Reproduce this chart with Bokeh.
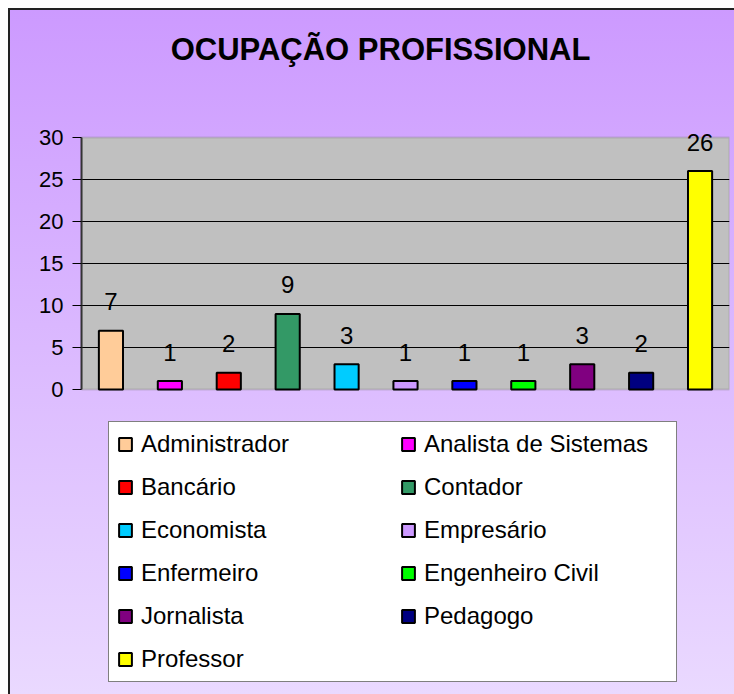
from bokeh.plotting import figure
from bokeh.models import (ColumnDataSource, Range1d, FactorRange, Legend, LegendItem,
                          SingleIntervalTicker, Label, BoxAnnotation)
from bokeh.core.properties import value
from bokeh.embed import file_html
from bokeh.resources import INLINE

# ---- data ----
categories = ["Administrador", "Analista de Sistemas", "Bancário", "Contador",
              "Economista", "Empresário", "Enfermeiro", "Engenheiro Civil",
              "Jornalista", "Pedagogo", "Professor"]
counts = [7, 1, 2, 9, 3, 1, 1, 1, 3, 2, 26]
colors = ["#FFCC99", "#FF00FF", "#FF0000", "#339966", "#00CCFF", "#CC99FF",
          "#0000FF", "#00FF00", "#800080", "#000080", "#FFFF00"]
title_text = "OCUPAÇÃO PROFISSIONAL"
y_min, y_max = 0, 30

FONT = "Liberation Sans"

src = ColumnDataSource(dict(cat=categories, val=counts, col=colors,
                            lab=[str(v) for v in counts]))

# value axis: 8.4 px per unit; frame extended above/below the plot area
PX = 8.4
p = figure(width=734, height=694, x_range=FactorRange(*categories),
           y_range=Range1d(y_min - 305 / PX, y_max + 137 / PX),
           output_backend="svg", toolbar_location=None,
           min_border_left=81, min_border_right=5, min_border_top=0,
           min_border_bottom=0)

p.border_fill_color = None
p.background_fill_color = None
p.outline_line_color = None
p.styles = {"background": "linear-gradient(to bottom, #CC99FF 0%, #EAD9FF 100%)",
            "box-shadow": "inset 8px 8px 0 0 #FFFFFF, inset 10px 10px 0 0 #222222"}

# plot area (grey wall)
wall = BoxAnnotation(bottom=y_min, top=y_max, fill_color="#C0C0C0", fill_alpha=1,
                     line_color="#808080", line_width=2, level="image")
p.add_layout(wall)

# title
p.add_layout(Label(x=5.076, y=y_max + 88 / PX, text=title_text, text_align="center",
                   text_baseline="alphabetic", text_font=FONT, text_font_size="31px",
                   text_font_style="bold", text_color="black"))

r = p.vbar(x="cat", top="val", width=0.41, source=src, fill_color="col",
           line_color="black", line_width=2)

p.text(x="cat", y="val", text="lab", source=src, text_align="center",
       text_baseline="alphabetic", y_offset=-29, text_font=value(FONT),
       text_font_size="24px", text_color="black")

# axes
p.xaxis.visible = False
p.xgrid.grid_line_color = None
p.ygrid.grid_line_color = "black"
p.ygrid.grid_line_width = 1
p.ygrid.bounds = (y_min + 5, y_max - 5)
p.yaxis.bounds = (y_min, y_max)
p.yaxis.ticker = SingleIntervalTicker(interval=5, num_minor_ticks=0)
p.yaxis.axis_line_color = "#333333"
p.yaxis.axis_line_width = 2
p.yaxis.major_tick_line_color = "black"
p.yaxis.major_tick_out = 9
p.yaxis.major_tick_in = 0
p.yaxis.minor_tick_line_color = None
p.yaxis.major_label_text_font = FONT
p.yaxis.major_label_text_font_size = "22px"
p.yaxis.major_label_text_color = "black"
p.yaxis.major_label_standoff = 9

# legend
items = [LegendItem(label=c, renderers=[r], index=i) for i, c in enumerate(categories)]
legend = Legend(items=items, orientation="horizontal", ncols=2,
                location=(27, 12), padding=8, margin=0, spacing=15,
                glyph_width=16, glyph_height=16, label_standoff=8, label_width=244,
                label_text_font=FONT, label_text_font_size="24px",
                label_text_color="black", border_line_color="black",
                border_line_width=1, background_fill_color="white",
                background_fill_alpha=1)
p.add_layout(legend, "center")

open("out.html", "w").write(file_html(p, INLINE))
